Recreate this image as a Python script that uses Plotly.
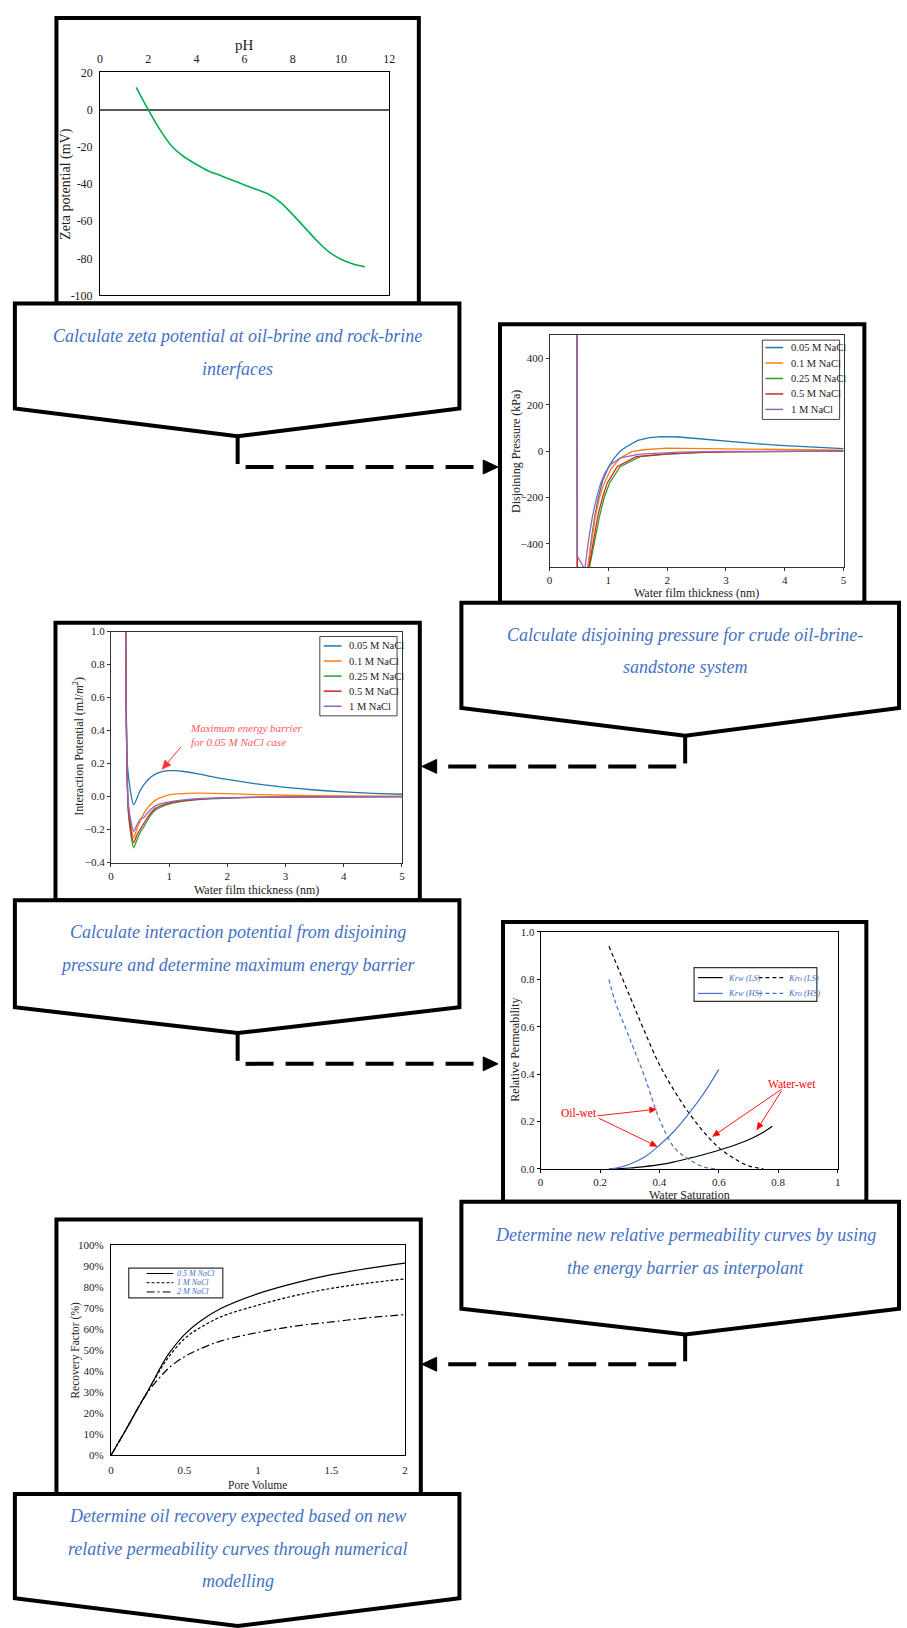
import math
import plotly.graph_objects as go

W, H = 907, 1628
SERIF = "Liberation Serif, Times New Roman, serif"
STEP_BLUE = "#4472C4"

# ---------------- 1. zeta potential vs pH ----------------
ph = [1.5, 2, 2.5, 3, 3.5, 4, 4.5, 5, 5.5, 6, 6.5, 7, 7.5, 8, 8.5, 9, 9.5, 10, 10.5, 11]
zeta_mv = [12, 0, -11, -20, -25.5, -29.5, -33, -35.5, -38, -40.5, -43, -45.5, -50, -56.5,
           -63.5, -70.5, -76.5, -80.5, -83, -84.5]
zeta_ticks = [-100, -80, -60, -40, -20, 0, 20]
zeta_ticktext = ["-100", "-80", "-60", "-40", "-20", "0", "20"]

# ---------------- 2. disjoining pressure ----------------
nacl_labels = ["0.05 M NaCl", "0.1 M NaCl", "0.25 M NaCl", "0.5 M NaCl", "1 M NaCl"]
nacl_colors = ["#1f77b4", "#ff7f0e", "#2ca02c", "#d62728", "#9467bd"]

dp_h_005 = [0.465, 0.48, 0.66, 0.7, 0.77, 0.83, 0.9, 1.0, 1.1, 1.2, 1.3, 1.4, 1.5, 1.7, 1.9,
            2.2, 2.5, 3.0, 3.5, 4.0, 4.5, 5.0]
dp_kpa_005 = [3000, -3000, -500, -400, -280, -200, -130, -70, -30, 0, 18, 33, 46, 58, 63,
              61, 54, 42, 32, 24, 17, 11]
dp_h_01 = [0.465, 0.48, 0.65, 0.71, 0.78, 0.85, 0.93, 1.05, 1.2, 1.4, 1.6, 2.0, 2.5, 3.0, 4.0, 5.0]
dp_kpa_01 = [3000, -3000, -500, -400, -281, -200, -138, -75, -30, -2, 6, 13, 12, 10, 6, 4]
dp_h_025 = [0.465, 0.48, 0.68, 0.76, 0.85, 0.93, 1.02, 1.2, 1.54, 2.0, 2.5, 3.0, 4.0, 5.0]
dp_kpa_025 = [3000, -3000, -500, -390, -281, -200, -138, -67, -24, -13, -6, -3, -1, 0]
dp_h_05 = [0.465, 0.48, 0.67, 0.74, 0.82, 0.9, 0.98, 1.15, 1.47, 1.95, 2.5, 3.0, 4.0, 5.0]
dp_kpa_05 = [3000, -3000, -500, -390, -281, -200, -138, -67, -24, -13, -6, -3, -1, 0]
dp_h_1 = [0.465, 0.475, 0.6, 0.66, 0.73, 0.8, 0.87, 0.95, 1.05, 1.22, 1.54, 2.2, 3.0, 5.0]
dp_kpa_1 = [3000, -453, -510, -390, -281, -200, -138, -90, -55, -28, -13, -4, -1, 0]

# ---------------- 3. interaction potential ----------------
ip_h_005 = [0.25, 0.29, 0.39, 0.5, 0.6, 0.7, 0.8, 0.9, 1.0, 1.1, 1.25, 1.5, 1.75, 2.0, 2.5,
            3.0, 3.5, 4.0, 4.5, 5.0]
ip_e_005 = [1.5, 0.16, -0.05, 0.035, 0.088, 0.122, 0.142, 0.153, 0.157, 0.157, 0.152, 0.138,
            0.12, 0.104, 0.077, 0.056, 0.04, 0.028, 0.02, 0.014]
ip_h_01 = [0.25, 0.3, 0.39, 0.45, 0.5, 0.57, 0.65, 0.77, 0.9, 1.0, 1.14, 1.3, 1.5, 2.0, 2.5,
           3.0, 4.0, 5.0]
ip_e_01 = [1.5, -0.05, -0.25, -0.19, -0.15, -0.1, -0.06, -0.02, 0.0, 0.01, 0.016, 0.02, 0.021,
           0.018, 0.012, 0.008, 0.004, 0.002]
ip_h_rest = [0.25, 0.3, 0.39, 0.45, 0.5, 0.57, 0.65, 0.77, 0.9, 1.0, 1.25, 1.5, 2.0, 2.5, 3.0,
             4.0, 5.0]
ip_e_025 = [1.5, -0.1, -0.31, -0.26, -0.22, -0.18, -0.13, -0.08, -0.057, -0.045, -0.028,
            -0.018, -0.009, -0.005, -0.003, -0.001, 0]
ip_e_05 = [1.5, -0.08, -0.28, -0.23, -0.2, -0.16, -0.115, -0.07, -0.05, -0.04, -0.025,
           -0.016, -0.008, -0.005, -0.003, -0.001, 0]
ip_e_1 = [1.5, -0.05, -0.21, -0.17, -0.14, -0.125, -0.09, -0.055, -0.04, -0.032, -0.02,
          -0.013, -0.007, -0.004, -0.002, -0.001, 0]

# ---------------- 4. relative permeability ----------------
kr_labels = ["Krw (LS)", "Kro (LS)", "Krw (HS)", "Kro (HS)"]
kr_colors = ["#000000", "#000000", "#4472C4", "#4472C4"]
kr_dashes = ["solid", "4px,3px", "solid", "4px,3px"]
sw_w_ls = [0.23, 0.3, 0.35, 0.4, 0.45, 0.5, 0.55, 0.6, 0.65, 0.7, 0.75, 0.78]
krw_ls = [0, 0.004, 0.01, 0.018, 0.03, 0.045, 0.061, 0.079, 0.099, 0.123, 0.155, 0.18]
sw_o_ls = [0.23, 0.3, 0.35, 0.4, 0.45, 0.5, 0.55, 0.6, 0.65, 0.7, 0.75]
kro_ls = [0.94, 0.73, 0.58, 0.44, 0.33, 0.235, 0.155, 0.09, 0.045, 0.013, 0]
sw_w_hs = [0.23, 0.25, 0.3, 0.35, 0.4, 0.45, 0.5, 0.55, 0.6]
krw_hs = [0, 0.002, 0.02, 0.05, 0.1, 0.16, 0.235, 0.32, 0.42]
sw_o_hs = [0.23, 0.25, 0.3, 0.35, 0.4, 0.45, 0.5, 0.55, 0.59]
kro_hs = [0.8, 0.71, 0.55, 0.39, 0.21, 0.09, 0.04, 0.008, 0]

# ---------------- 5. recovery factor ----------------
rec_labels = ["0.5 M NaCl", "1 M NaCl", "2 M NaCl"]
rec_dashes = ["solid", "3px,2px", "8px,3px,2px,3px"]
pore_volume = [0, 0.1, 0.2, 0.25, 0.3, 0.35, 0.4, 0.5, 0.6, 0.75, 1.0, 1.25, 1.5, 1.75, 2.0]
rf_05 = [0, 12, 24.5, 30.5, 37, 43.5, 49, 57.5, 63.5, 70, 77, 82, 86, 89, 91.5]
rf_1 = [0, 12, 24.5, 30.5, 36.5, 42.5, 47.5, 55.5, 60.5, 66, 71.5, 76, 79.5, 82, 84]
rf_2 = [0, 12, 24.5, 30, 34.5, 38.5, 42, 47, 50.5, 54.5, 58.5, 61.5, 63.5, 65.5, 67]

# ---------------- workflow step texts ----------------
step1 = ["Calculate zeta potential at oil-brine and rock-brine", "interfaces"]
step2 = ["Calculate disjoining pressure for crude oil-brine-", "sandstone system"]
step3 = ["Calculate interaction potential from disjoining",
         "pressure and determine maximum energy barrier"]
step4 = ["Determine new relative permeability curves by using",
         "the energy barrier as interpolant"]
step5 = ["Determine oil recovery expected based on new",
         "relative permeability curves through numerical", "modelling"]

# subplot placement (pixels): (left, right, top, bottom)
BOX = {
    1: (98, 390, 66, 291),
    2: (552, 849, 331, 565),
    3: (109, 403, 630, 863),
    4: (543, 843, 933, 1172),
    5: (109, 406, 1249, 1461),
}
RANGES = {1: ([0, 12], [-100, 20]), 2: ([0, 5], [-500, 500]), 3: ([0, 5], [-0.4, 1.0]),
          4: ([0, 1], [0, 1]), 5: ([0, 2], [0, 100])}


def px(x):
    return x / W


def py(y):
    return 1 - y / H


def to_pix(k, xv, yv):
    l, r, t, b = BOX[k]
    (x0, x1), (y0, y1) = RANGES[k]
    return l + (xv - x0) / (x1 - x0) * (r - l), b - (yv - y0) / (y1 - y0) * (b - t)


fig = go.Figure()

fig.add_trace(go.Scatter(x=ph, y=zeta_mv, mode="lines",
                         line=dict(color="#00B050", width=1.6, shape="spline"),
                         xaxis="x", yaxis="y", showlegend=False))

dp_sets = [(dp_h_005, dp_kpa_005), (dp_h_01, dp_kpa_01), (dp_h_025, dp_kpa_025),
           (dp_h_05, dp_kpa_05), (dp_h_1, dp_kpa_1)]
for (hx, pv), name, col in zip(dp_sets, nacl_labels, nacl_colors):
    fig.add_trace(go.Scatter(x=hx, y=pv, mode="lines", name=name,
                             line=dict(color=col, width=1.3), xaxis="x2", yaxis="y2",
                             showlegend=False))

ip_sets = [(ip_h_005, ip_e_005), (ip_h_01, ip_e_01), (ip_h_rest, ip_e_025),
           (ip_h_rest, ip_e_05), (ip_h_rest, ip_e_1)]
for (hx, ev), name, col in zip(ip_sets, nacl_labels, nacl_colors):
    fig.add_trace(go.Scatter(x=hx, y=ev, mode="lines", name=name,
                             line=dict(color=col, width=1.3, shape="spline", smoothing=0.6),
                             xaxis="x3", yaxis="y3", showlegend=False))

kr_sets = [(sw_w_ls, krw_ls), (sw_o_ls, kro_ls), (sw_w_hs, krw_hs), (sw_o_hs, kro_hs)]
for (sx, kv), name, col, dsh in zip(kr_sets, kr_labels, kr_colors, kr_dashes):
    fig.add_trace(go.Scatter(x=sx, y=kv, mode="lines", name=name,
                             line=dict(color=col, width=1.2, dash=dsh, shape="spline"),
                             xaxis="x4", yaxis="y4", showlegend=False))

for rv, name, dsh in zip([rf_05, rf_1, rf_2], rec_labels, rec_dashes):
    fig.add_trace(go.Scatter(x=pore_volume, y=rv, mode="lines", name=name,
                             line=dict(color="#000000", width=1.2, dash=dsh, shape="spline"),
                             xaxis="x5", yaxis="y5", showlegend=False))


def axis(k, which, tickfont=11, linecolor="black", ticks="outside", ticklen=3, **kw):
    l, r, t, b = BOX[k]
    dom = [px(l), px(r)] if which == "x" else [py(b), py(t)]
    rng = RANGES[k][0] if which == "x" else RANGES[k][1]
    d = dict(domain=dom, range=rng, showgrid=False, zeroline=False, showline=True, mirror=True,
             linecolor=linecolor, linewidth=1, ticks=ticks, ticklen=ticklen,
             tickcolor=linecolor, fixedrange=True,
             tickfont=dict(family=SERIF, size=tickfont, color="#222"))
    d.update(kw)
    return d


layout = dict(
    width=W, height=H, margin=dict(l=0, r=0, t=0, b=0),
    paper_bgcolor="white", plot_bgcolor="white", showlegend=False,
    font=dict(family=SERIF),
    xaxis=axis(1, "x", tickfont=12, side="top", dtick=2, anchor="y", ticks="", ticklen=0,
               ticklabelstandoff=4),
    yaxis=axis(1, "y", tickfont=12, tickvals=zeta_ticks, ticktext=zeta_ticktext, anchor="x",
               ticks="", ticklen=0, ticklabelstandoff=4,
               zeroline=True, zerolinecolor="#595959", zerolinewidth=1.6),
    xaxis2=axis(2, "x", linecolor="#333", dtick=1, anchor="y2"),
    yaxis2=axis(2, "y", linecolor="#333", tickvals=[-400, -200, 0, 200, 400], anchor="x2"),
    xaxis3=axis(3, "x", linecolor="#333", dtick=1, anchor="y3"),
    yaxis3=axis(3, "y", linecolor="#333", dtick=0.2, tickformat=".1f", anchor="x3"),
    xaxis4=axis(4, "x", tickvals=[0, 0.2, 0.4, 0.6, 0.8, 1],
                ticktext=["0", "0.2", "0.4", "0.6", "0.8", "1"], anchor="y4"),
    yaxis4=axis(4, "y", dtick=0.2, tickformat=".1f", anchor="x4"),
    xaxis5=axis(5, "x", tickvals=[0, 0.5, 1, 1.5, 2], ticktext=["0", "0.5", "1", "1.5", "2"],
                anchor="y5", ticks="", ticklen=0, ticklabelstandoff=4),
    yaxis5=axis(5, "y", dtick=10, ticksuffix="%", anchor="x5", ticks="", ticklen=0,
                ticklabelstandoff=4),
)

shapes = []
annotations = []


def seg(x0, y0, x1, y1, color="black", width=4, dash="solid"):
    return dict(type="line", xref="paper", yref="paper", x0=px(x0), y0=py(y0), x1=px(x1),
                y1=py(y1), line=dict(color=color, width=width, dash=dash), layer="above")


def poly(pts, fill="white", color="black", width=4):
    path = "M " + " L ".join(f"{px(x):.5f},{py(y):.5f}" for x, y in pts) + " Z"
    return dict(type="path", xref="paper", yref="paper", path=path, fillcolor=fill,
                line=dict(color=color, width=width), layer="above")


def rect(x0, y0, x1, y1, color="black", width=4, fill="rgba(0,0,0,0)"):
    return dict(type="rect", xref="paper", yref="paper", x0=px(x0), y0=py(y0), x1=px(x1),
                y1=py(y1), line=dict(color=color, width=width), fillcolor=fill, layer="above")


def txt(x, y, s, size, color, xanchor="center", angle=0):
    return dict(xref="paper", yref="paper", x=px(x), y=py(y), text=s, showarrow=False,
                font=dict(family=SERIF, size=size, color=color), xanchor=xanchor,
                yanchor="middle", textangle=angle)


def arrow(k, tail, tip, color, head=8, half=3.5, width=1):
    x0, y0 = to_pix(k, *tail)
    x1, y1 = to_pix(k, *tip)
    L = math.hypot(x1 - x0, y1 - y0)
    ux, uy = (x1 - x0) / L, (y1 - y0) / L
    bx, by = x1 - ux * head, y1 - uy * head
    shapes.append(seg(x0, y0, bx, by, color=color, width=width))
    shapes.append(poly([(x1, y1), (bx - uy * half, by + ux * half), (bx + uy * half, by - ux * half)],
                       fill=color, color=color, width=0.5))


# chart frames
for (x0, y0, x1, y1) in [(54, 11, 420, 299), (502, 320, 870, 601), (53, 621, 421, 901),
                         (505, 923, 872, 1205), (54, 1223, 422, 1500)]:
    shapes.append(rect(x0, y0, x1, y1))

# step pentagons
pent = [
    ((12, 461), 299, 405, 433, 237),
    ((463, 905), 601, 707, 735, 689),
    ((12, 461), 901, 1009, 1035, 237),
    ((463, 905), 1205, 1313, 1339, 689),
    ((12, 461), 1500, 1605, 1633, 237),
]
for (xl, xr), yt, ys, ytip, xc in pent:
    shapes.append(poly([(xl, yt), (xr, yt), (xr, ys), (xc, ytip), (xl, ys)]))

# connectors with dashed arrows
conn = [(237, 433, 461, 464, "right"), (689, 735, 763, 766, "left"),
        (237, 1035, 1063, 1066, "right"), (689, 1339, 1366, 1369, "left")]
for xc, ya, yb, yd, direc in conn:
    shapes.append(seg(xc, ya, xc, yb))
    if direc == "right":
        shapes.append(seg(xc + 8, yd, 486, yd, dash="28px,12px"))
        shapes.append(poly([(485, yd - 7), (500, yd), (485, yd + 7)], fill="black", width=1))
    else:
        shapes.append(seg(xc - 9, yd, 438, yd, dash="28px,12px"))
        shapes.append(poly([(438, yd - 7), (423, yd), (438, yd + 7)], fill="black", width=1))

# step texts
for lines, xc, y0 in [(step1, 237, 332), (step2, 689, 633), (step3, 237, 933),
                      (step4, 689, 1239), (step5, 237, 1522)]:
    for i, s in enumerate(lines):
        annotations.append(txt(xc, y0 + 33 * i, f"<i>{s}</i>", 18, STEP_BLUE))

# axis titles
annotations += [
    txt(244, 38, "pH", 15, "#222"),
    txt(64, 178, "Zeta potential (mV)", 14, "#222", angle=-90),
    txt(700, 591, "Water film thickness (nm)", 12, "#222"),
    txt(518, 448, "Disjoining Pressure (kPa)", 12, "#222", angle=-90),
    txt(256, 891, "Water film thickness (nm)", 12, "#222"),
    txt(76, 746, "Interaction Potential (mJ/<i>m</i><sup>2</sup>)", 12, "#222", angle=-90),
    txt(693, 1198, "Water Saturation", 12, "#222"),
    txt(517, 1052, "Relative Permeability", 12, "#222", angle=-90),
    txt(257, 1491, "Pore Volume", 11.5, "#222"),
    txt(73, 1355, "Recovery Factor (%)", 11.5, "#222", angle=-90),
]

# legend: disjoining pressure
shapes.append(dict(type="rect", xref="paper", yref="paper", x0=px(767), x1=px(845), y0=py(336),
                   y1=py(416), line=dict(color="#444", width=1), fillcolor="white", layer="above"))
for i, (name, col) in enumerate(zip(nacl_labels, nacl_colors)):
    yy = 343.5 + i * 15.6
    shapes.append(seg(770, yy, 788, yy, color=col, width=1.5))
    annotations.append(txt(794, yy, name, 10.5, "#222", xanchor="left"))

# legend: interaction potential
shapes.append(dict(type="rect", xref="paper", yref="paper", x0=px(320), x1=px(398), y0=py(635),
                   y1=py(715), line=dict(color="#444", width=1), fillcolor="white", layer="above"))
for i, (name, col) in enumerate(zip(nacl_labels, nacl_colors)):
    yy = 644.5 + i * 15.2
    shapes.append(seg(324, yy, 342, yy, color=col, width=1.5))
    annotations.append(txt(347, yy, name, 10.5, "#222", xanchor="left"))

# legend: relative permeability (2 x 2)
shapes.append(dict(type="rect", xref="paper", yref="paper", x0=px(698), x1=px(822), y0=py(969),
                   y1=py(1003), line=dict(color="#333", width=1.2), fillcolor="white",
                   layer="above"))
for i, (name, col, dsh) in enumerate(zip(kr_labels, kr_colors, kr_dashes)):
    row, colm = divmod(i, 2)
    yy = 979 + row * 16
    lx = [702, 763][colm]
    shapes.append(seg(lx, yy, lx + 25, yy, color=col, width=1.2, dash=dsh))
    annotations.append(txt(lx + 28, yy, f"<i>{name}</i>", 8.5, STEP_BLUE, xanchor="left"))

# legend: recovery
shapes.append(dict(type="rect", xref="paper", yref="paper", x0=px(127), x1=px(222), y0=py(1272),
                   y1=py(1302), line=dict(color="#333", width=1.2), fillcolor="white",
                   layer="above"))
for i, (name, dsh) in enumerate(zip(rec_labels, rec_dashes)):
    yy = 1277.5 + i * 9.3
    shapes.append(seg(145, yy, 172, yy, color="black", width=1, dash=dsh))
    annotations.append(txt(174, yy, f"<i>{name}</i>", 8, STEP_BLUE, xanchor="left"))

# chart annotations
annotations.append(dict(xref="x3", yref="y3", x=1.33, y=0.375, xanchor="left", yanchor="middle",
                        align="left", showarrow=False,
                        text="<i>Maximum energy barrier<br>for 0.05 M NaCl case</i>",
                        font=dict(family=SERIF, size=11, color="#ff5a5a")))
arrow(3, (1.2, 0.3), (0.88, 0.165), "#ff3030", head=9, half=4)

annotations.append(dict(xref="x4", yref="y4", x=0.13, y=0.238, text="Oil-wet", showarrow=False,
                        font=dict(family=SERIF, size=11.5, color="#ff0000")))
annotations.append(dict(xref="x4", yref="y4", x=0.848, y=0.357, text="Water-wet", showarrow=False,
                        font=dict(family=SERIF, size=11.5, color="#ff0000")))
for (tx, ty, hx, hy) in [(0.191, 0.224, 0.39, 0.252), (0.196, 0.214, 0.392, 0.095),
                         (0.811, 0.336, 0.579, 0.137), (0.811, 0.329, 0.728, 0.165)]:
    arrow(4, (tx, ty), (hx, hy), "#ff0000", head=7, half=3, width=0.9)

layout["shapes"] = shapes
layout["annotations"] = annotations
fig.update_layout(**layout)
fig.write_html("out.html")
